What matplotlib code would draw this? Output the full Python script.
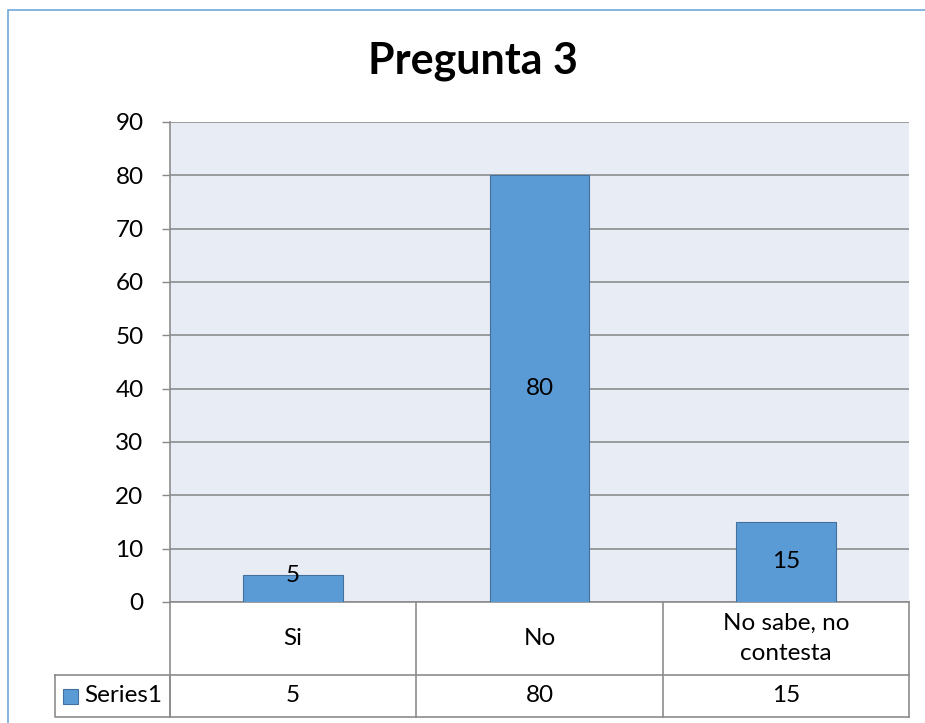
import matplotlib
matplotlib.use("Agg")
import matplotlib.pyplot as plt
from matplotlib.patches import Rectangle
import matplotlib.transforms as mtransforms

categories = ["Si", "No", "No sabe, no\ncontesta"]
values = [5, 80, 15]
series_name = "Series1"
title = "Pregunta 3"
yticks = [0, 10, 20, 30, 40, 50, 60, 70, 80, 90]

FONT = "Lato"
FS = 17.5
W, H = 925, 723
fig = plt.figure(figsize=(W / 100, H / 100), dpi=100)
fig.patch.set_facecolor("white")

# outer chart border
fig.patches.append(Rectangle((8 / W, -0.1), 1.2, 1 - 10 / H + 0.1, transform=fig.transFigure,
                             fill=False, edgecolor="#6FA8DC", linewidth=1.2))

left, right, top, bottom = 170, 909, 122, 602
ax = fig.add_axes([left / W, 1 - bottom / H, (right - left) / W, (bottom - top) / H])
ax.set_facecolor("#E8ECF5")
for s in ax.spines.values():
    s.set_visible(False)

x = list(range(len(categories)))
bars = ax.bar(x, values, width=0.405, color="#5B9BD5", edgecolor="#41719C", linewidth=0.8, zorder=3)
ax.set_xlim(-0.5, len(categories) - 0.5)
ax.set_ylim(0, 90)
ax.set_yticks(yticks)
ax.set_yticklabels([str(t) for t in yticks], fontsize=FS, family=FONT)
ax.set_xticks([])
ax.tick_params(axis="y", length=6, color="#888888", pad=13, width=1)
ax.grid(axis="y", color="#8C8C8C", linewidth=1.2, zorder=1)
ax.set_axisbelow(True)
ax.axvline(-0.5, color="#8C8C8C", linewidth=1.2, zorder=2, clip_on=False)

for xi, v in zip(x, values):
    ax.text(xi, max(v / 2, 5), str(v), ha="center", va="center", fontsize=FS, family=FONT, zorder=4)

fig.text(473 / W, 1 - 61 / H, title, ha="center", va="center", fontsize=31, fontweight="bold", family=FONT)

# data table
trans = mtransforms.blended_transform_factory(ax.transData, ax.transAxes)
ph = bottom - top
y1 = -(675 - bottom) / ph
y2 = -(717 - bottom) / ph
lc = "#8C8C8C"
lw = 1.2
n = len(categories)
for b in range(n + 1):
    xb = b - 0.5
    ax.plot([xb, xb], [0, y2], transform=trans, color=lc, lw=lw, clip_on=False)
ax.plot([-0.5, n - 0.5], [y1, y1], transform=trans, color=lc, lw=lw, clip_on=False)
ax.plot([-0.5, n - 0.5], [y2, y2], transform=trans, color=lc, lw=lw, clip_on=False)
ax.plot([-0.5, n - 0.5], [0, 0], transform=trans, color=lc, lw=lw, clip_on=False)

# series label cell (axes coordinates)
xl = (55 - left) / (right - left)
ax.plot([xl, 0, 0, xl, xl], [y1, y1, y2, y2, y1], transform=ax.transAxes, color=lc, lw=lw, clip_on=False)
key_x0 = (63 - left) / (right - left)
key_w = 15 / (right - left)
key_h = 15 / ph
ym = (y1 + y2) / 2
ax.add_patch(Rectangle((key_x0, ym - key_h / 2), key_w, key_h, transform=ax.transAxes,
                       facecolor="#5B9BD5", edgecolor="#41719C", lw=0.8, clip_on=False))
ax.text((84 - left) / (right - left), ym, series_name, transform=ax.transAxes,
        ha="left", va="center", fontsize=FS, family=FONT)

for xi, c, v in zip(x, categories, values):
    ax.text(xi, y1 / 2, c, transform=trans, ha="center", va="center", fontsize=FS, family=FONT,
            linespacing=1.5)
    ax.text(xi, ym, str(v), transform=trans, ha="center", va="center", fontsize=FS, family=FONT)

fig.savefig("out.png", dpi=100)
